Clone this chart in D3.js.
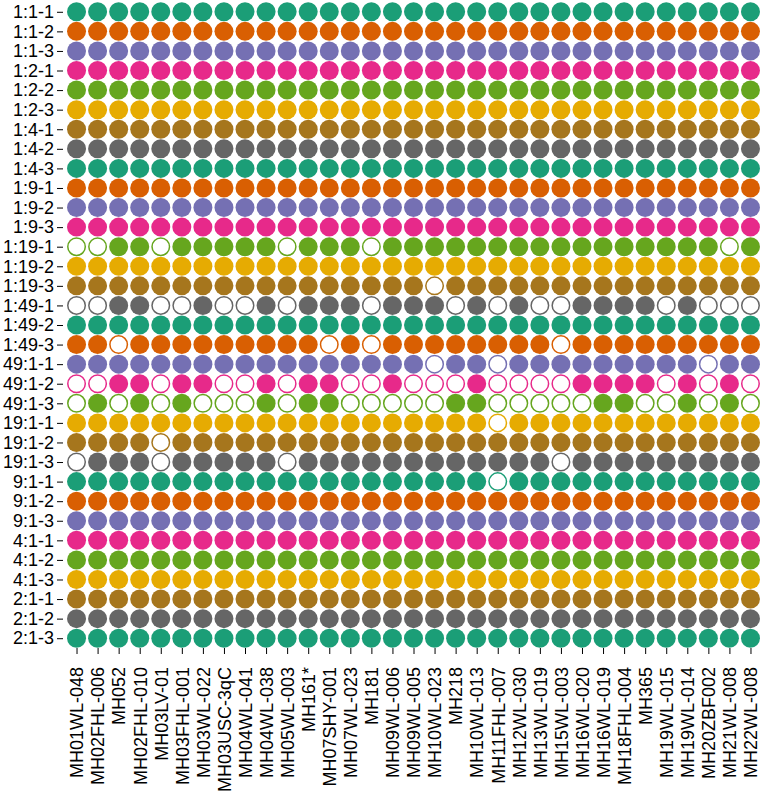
<!DOCTYPE html>
<html>
<head>
<meta charset="utf-8">
<script src="https://cdn.jsdelivr.net/npm/d3@7"></script>
<style>
  body { margin: 0; background: #fff; }
  text { font-family: "Liberation Sans", Arial, sans-serif; }
</style>
</head>
<body>
<script>
let width = 762, height = 795;
let margin = {top: 2, right: 1, bottom: 147, left: 66};
let fontSize = 18;

// samples (rows) and markers (columns)
let samples = ["1:1-1","1:1-2","1:1-3","1:2-1","1:2-2","1:2-3","1:4-1","1:4-2","1:4-3",
  "1:9-1","1:9-2","1:9-3","1:19-1","1:19-2","1:19-3","1:49-1","1:49-2","1:49-3",
  "49:1-1","49:1-2","49:1-3","19:1-1","19:1-2","19:1-3","9:1-1","9:1-2","9:1-3",
  "4:1-1","4:1-2","4:1-3","2:1-1","2:1-2","2:1-3"];

let markers = ["MH01WL-048","MH02FHL-006","MH052","MH02FHL-010","MH03LV-01","MH03FHL-001",
  "MH03WL-022","MH03USC-3qC","MH04WL-041","MH04WL-038","MH05WL-003","MH161*","MH07SHY-001",
  "MH07WL-023","MH181","MH09WL-006","MH09WL-005","MH10WL-023","MH218","MH10WL-013",
  "MH11FHL-007","MH12WL-030","MH13WL-019","MH15WL-003","MH16WL-020","MH16WL-019",
  "MH18FHL-004","MH365","MH19WL-015","MH19WL-014","MH20ZBF002","MH21WL-008","MH22WL-008"];

// markers not detected (open circles), by marker index
let missing_1_19_1 = [0, 1, 4, 10, 14, 31];
let missing_1_19_3 = [17];
let missing_1_49_1 = [0, 1, 4, 5, 7, 8, 10, 14, 18, 20, 22, 23, 28, 30, 31, 32];
let missing_1_49_3 = [2, 12, 14, 23];
let missing_49_1_1 = [17, 20, 30];
let missing_49_1_2 = [0, 1, 4, 7, 8, 10, 13, 14, 16, 17, 18, 20, 21, 22, 23, 28, 30, 32];
let missing_49_1_3 = [0, 2, 4, 6, 7, 8, 10, 13, 14, 15, 16, 17, 20, 21, 22, 23, 24, 27, 28, 30, 32];
let missing_19_1_1 = [20];
let missing_19_1_2 = [4];
let missing_19_1_3 = [0, 4, 10, 23];
let missing_9_1_1 = [20];

let missing = {
  "1:19-1": missing_1_19_1, "1:19-3": missing_1_19_3,
  "1:49-1": missing_1_49_1, "1:49-3": missing_1_49_3,
  "49:1-1": missing_49_1_1, "49:1-2": missing_49_1_2, "49:1-3": missing_49_1_3,
  "19:1-1": missing_19_1_1, "19:1-2": missing_19_1_2, "19:1-3": missing_19_1_3,
  "9:1-1": missing_9_1_1
};

let cells = [];
samples.forEach(function(s, i) {
  markers.forEach(function(m, j) {
    let miss = (missing[s] || []).indexOf(j) >= 0;
    cells.push({sample: s, marker: m, row: i, present: !miss});
  });
});

let svg = d3.select("body").append("svg")
    .attr("width", width)
    .attr("height", height);

let x = d3.scalePoint()
    .domain(markers)
    .range([margin.left, width - margin.right])
    .padding(0.5);

let y = d3.scalePoint()
    .domain(samples)
    .range([margin.top, height - margin.bottom])
    .padding(0.5);

let color = function(i) { return d3.schemeDark2[i % 8]; };

let r = 9.5;

svg.append("g")
    .attr("transform", "translate(" + (margin.left - 3) + ",0)")
    .call(d3.axisLeft(y).tickSize(6))
    .call(g => g.select(".domain").remove())
    .call(g => g.selectAll("text").attr("font-size", fontSize).attr("fill", "#000"));

svg.append("g")
    .attr("transform", "translate(0," + (height - margin.bottom) + ")")
    .call(d3.axisBottom(x).tickSize(6))
    .call(g => g.select(".domain").remove())
    .call(g => g.selectAll("text")
      .attr("font-size", fontSize)
      .attr("fill", "#000")
      .attr("transform", "rotate(-90)")
      .attr("text-anchor", "end")
      .attr("x", -19)
      .attr("y", 0)
      .attr("dy", "0.35em"));

svg.append("g")
  .selectAll("circle")
  .data(cells)
  .enter().append("circle")
    .attr("cx", d => x(d.marker))
    .attr("cy", d => y(d.sample))
    .attr("r", d => d.present ? r : r - 0.75)
    .attr("fill", d => d.present ? color(d.row) : "#fff")
    .attr("stroke", d => d.present ? "none" : color(d.row))
    .attr("stroke-width", 1.5);
</script>
</body>
</html>
